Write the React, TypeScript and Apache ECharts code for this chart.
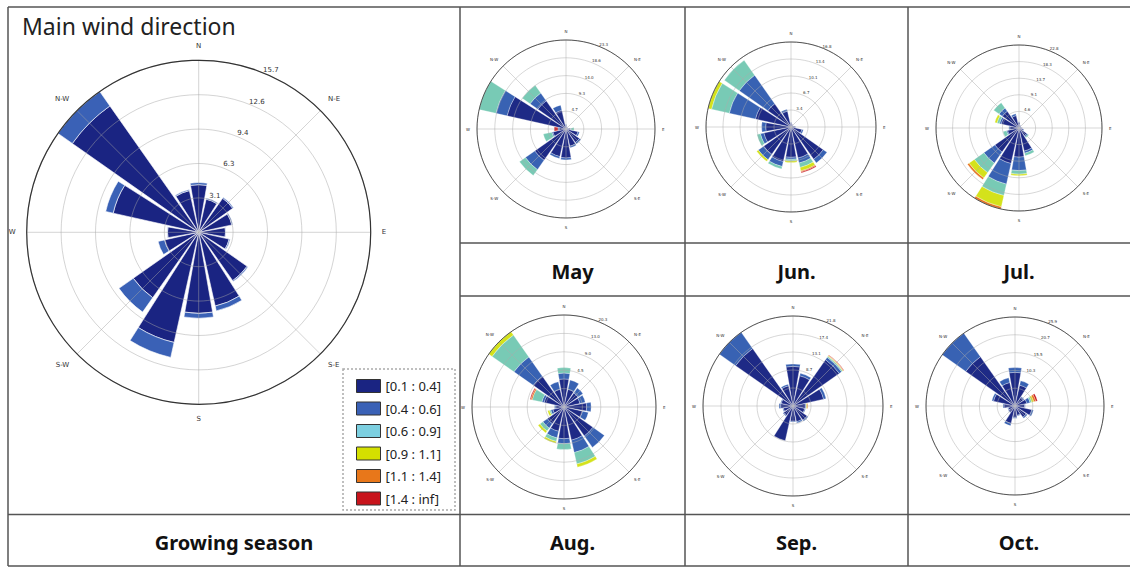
import React, { useEffect, useRef } from "react";
import * as echarts from "echarts";

// 16 compass sectors, clockwise from north
const DIRECTIONS = ["N", "NNE", "NE", "ENE", "E", "ESE", "SE", "SSE", "S", "SSW", "SW", "WSW", "W", "WNW", "NW", "NNW"];
const COMPASS_TICKS: Record<number, string> = { 0: "N", 45: "N-E", 90: "E", 135: "S-E", 180: "S", 225: "S-W", 270: "W", 315: "N-W" };
const SPEED_BINS = ["[0.1 : 0.4]", "[0.4 : 0.6]", "[0.6 : 0.9]", "[0.9 : 1.1]", "[1.1 : 1.4]", "[1.4 : inf]"];
const MAIN_COLORS = ["#1a2482", "#3a61b6", "#7ccfe0", "#d4e000", "#e8771a", "#c8141c"];
const MONTH_COLORS = ["#1e2a86", "#3862b3", "#78cab5", "#d4e21b", "#e8731c", "#c8151b"];
const COLUMN_LABELS = ["May", "Jun.", "Jul.", "Aug.", "Sep.", "Oct."];

// frequency (%) per speed bin, rows = SPEED_BINS, columns = DIRECTIONS
const GROWING_SEASON = [
  [4.35, 3.1, 3.8, 3.1, 2.45, 2.85, 5.4, 6.9, 7.4, 10.3, 7.3, 3.2, 2.85, 8.0, 14.1, 3.9],
  [0.2, 0.1, 0.1, 0.1, 0.05, 0.1, 0.1, 0.45, 0.45, 1.4, 1.6, 0.6, 0.05, 0.7, 1.6, 0.1],
  [0, 0, 0, 0, 0, 0, 0, 0, 0, 0, 0, 0, 0, 0, 0, 0],
  [0, 0, 0, 0, 0, 0, 0, 0, 0, 0, 0, 0, 0, 0, 0, 0],
  [0, 0, 0, 0, 0, 0, 0, 0, 0, 0, 0, 0, 0, 0, 0, 0],
  [0, 0, 0, 0, 0, 0, 0, 0, 0, 0, 0, 0, 0, 0, 0, 0],
];
const MAY = [
  [1.0, 0.6, 0.5, 0.5, 1.2, 3.2, 4.3, 4.6, 7.6, 7.4, 10.0, 3.5, 1.8, 15.8, 9.0, 5.0],
  [0.2, 0.1, 0, 0, 0.1, 0.4, 0.5, 0.4, 0.5, 0.5, 3.0, 0.3, 0.3, 3.0, 2.5, 1.4],
  [0, 0, 0, 0, 0.8, 0, 0, 0, 0, 0, 1.9, 2.3, 0, 4.5, 2.5, 0],
  [0, 0, 0, 0, 0, 0, 0, 0, 0, 0, 0, 0, 0, 0, 0, 0],
  [0, 0, 0, 0, 0, 0, 0, 0, 0, 0, 0, 0, 0, 0, 0, 0],
  [0, 0, 0, 0, 0, 0, 0, 0, 0, 0, 0, 0, 1.0, 0, 0, 0],
];
const JUN = [
  [0.8, 0.6, 0.4, 0.5, 0.8, 2.2, 7.8, 6.3, 6.0, 7.0, 6.6, 5.5, 5.0, 7.2, 5.6, 3.2],
  [0.1, 0, 0, 0, 0.1, 0.3, 0.9, 1.0, 0.4, 1.0, 1.3, 0.7, 0.8, 5.3, 6.9, 0.4],
  [0, 0, 0, 0, 0, 0, 0, 0.9, 0.3, 0.5, 0, 0.7, 0, 3.6, 3.6, 0],
  [0, 0, 0, 0, 0, 0, 0, 0.7, 0.3, 0, 0.4, 0, 0, 0.7, 0, 0],
  [0, 0, 0, 0, 0, 0, 0, 0.2, 0, 0, 0, 0, 0, 0, 0, 0],
  [0, 0, 0, 0, 0, 0, 0, 0.2, 0, 0, 0, 0, 0, 0, 0, 0],
];
const JUL = [
  [1.5, 0.8, 0.6, 0.6, 0.8, 1.2, 2.6, 6.5, 8.0, 10.0, 8.1, 3.2, 2.5, 5.0, 5.6, 3.5],
  [0.2, 0.1, 0, 0, 0.1, 0.2, 0.4, 0.6, 3.7, 5.8, 3.7, 0.3, 0.3, 0.5, 1.1, 0.5],
  [0, 0, 0, 0, 0, 0, 0.3, 0.7, 1.0, 3.2, 3.2, 1.0, 0, 0.7, 1.8, 0],
  [0, 0, 0, 0, 0, 0, 0, 0, 0.4, 3.2, 1.8, 0, 0, 0.6, 0, 0],
  [0, 0, 0, 0, 0, 0, 0, 0, 0, 0.6, 0.5, 0, 0, 0, 0, 0],
  [0, 0, 0, 0, 0, 0, 0, 0, 0, 0, 0, 0, 0, 0, 0, 0],
];
const AUG = [
  [6.2, 4.0, 3.8, 3.6, 5.0, 4.2, 7.8, 7.5, 7.0, 5.5, 4.5, 2.5, 1.8, 4.5, 8.3, 4.0],
  [1.3, 2.1, 1.3, 1.2, 1.0, 1.3, 3.1, 2.8, 1.1, 1.5, 1.2, 0.5, 0.3, 0.5, 5.2, 1.7],
  [1.2, 0, 0, 0, 0, 0, 0, 2.6, 1.3, 0.8, 0.8, 0.3, 0, 2.2, 5.9, 0],
  [0, 0, 0, 0, 0, 0, 0, 0.7, 0, 0.4, 0.5, 0.4, 0, 0, 0.9, 0],
  [0, 0, 0, 0, 0, 0, 0, 0, 0, 0, 0, 0, 0, 0.3, 0, 0],
  [0, 0, 0, 0, 0, 0, 0, 0, 0, 0, 0, 0, 0, 0.2, 0, 0],
];
const SEP = [
  [9.6, 7.5, 13.7, 7.6, 3.0, 2.9, 4.2, 3.9, 3.7, 8.6, 2.8, 2.4, 3.0, 2.9, 17.0, 5.0],
  [0.6, 0.6, 0.7, 0.6, 0.2, 0.2, 0.3, 0.3, 0.2, 0, 0.2, 0.2, 0.4, 0.2, 4.8, 0.4],
  [0, 0, 0.3, 0, 0, 0, 0, 0, 0, 0, 0, 0, 0, 0, 0, 0],
  [0, 0, 0.15, 0, 0.2, 0, 0, 0, 0, 0, 0, 0, 0, 0, 0, 0],
  [0, 0, 0.15, 0, 0.2, 0, 0, 0, 0, 0, 0, 0, 0, 0, 0, 0],
  [0, 0, 0.1, 0, 0, 0, 0, 0, 0, 0, 0, 0, 0, 0, 0, 0],
];
const OCT = [
  [9.8, 6.2, 3.0, 3.5, 2.8, 5.0, 4.0, 2.8, 3.3, 5.2, 2.2, 2.0, 3.2, 6.4, 17.5, 7.0],
  [1.4, 1.3, 0.3, 1.0, 0.2, 0.5, 0.4, 0.2, 0.3, 0.7, 0.2, 0.2, 0.3, 0.5, 8.4, 1.4],
  [0, 0, 0, 0.5, 0, 0, 0, 0, 0, 0, 0, 0, 0, 0, 0, 0],
  [0, 0, 0, 0.6, 0, 0, 0, 0, 0, 0, 0, 0, 0, 0, 0, 0],
  [0, 0, 0, 0.6, 0, 0, 0, 0, 0, 0, 0, 0, 0, 0, 0, 0],
  [0, 0, 0, 0.5, 0, 0, 0, 0, 0, 0, 0, 0, 0, 0, 0, 0],
];

// radial tick labels (5 rings) and radial maxima
const RINGS_SEASON = ["3.1", "6.3", "9.4", "12.6", "15.7"];
const RINGS_MAY = ["4.7", "9.3", "14.0", "18.6", "23.3"];
const RINGS_JUN = ["3.4", "6.7", "10.1", "13.4", "16.8"];
const RINGS_JUL = ["4.6", "9.1", "13.7", "18.3", "22.8"];
const RINGS_AUG = ["", "4.5", "9.0", "13.0", "20.3"];
const RINGS_SEP = ["", "8.7", "13.1", "17.4", "21.8"];
const RINGS_OCT = ["", "10.3", "15.5", "20.7", "25.9"];
const RMAX = [15.7, 23.3, 16.8, 22.8, 20.3, 21.8, 25.9];

const ROSES = [
  { key: "season", data: GROWING_SEASON, rings: RINGS_SEASON, rmax: RMAX[0], cx: 198.7, cy: 232.3, r: 172, big: true },
  { key: "may", data: MAY, rings: RINGS_MAY, rmax: RMAX[1], cx: 566, cy: 129, r: 89, big: false },
  { key: "jun", data: JUN, rings: RINGS_JUN, rmax: RMAX[2], cx: 791, cy: 127, r: 85, big: false },
  { key: "jul", data: JUL, rings: RINGS_JUL, rmax: RMAX[3], cx: 1019, cy: 128, r: 83, big: false },
  { key: "aug", data: AUG, rings: RINGS_AUG, rmax: RMAX[4], cx: 564, cy: 407, r: 92, big: false },
  { key: "sep", data: SEP, rings: RINGS_SEP, rmax: RMAX[5], cx: 793, cy: 406, r: 90, big: false },
  { key: "oct", data: OCT, rings: RINGS_OCT, rmax: RMAX[6], cx: 1015, cy: 406, r: 89, big: false },
];

function buildOption() {
  const polar: any[] = [];
  const angleAxis: any[] = [];
  const radiusAxis: any[] = [];
  const series: any[] = [];

  ROSES.forEach((rose, ci) => {
    const base = ci * 3;
    const step = rose.rmax / 5;
    const font = rose.big ? 7 : 4;
    const labelOff = rose.big ? 5.5 : 3.5;
    const gridColor = rose.big ? "rgba(165,165,165,0.6)" : "rgba(170,170,170,0.6)";

    // bars
    polar.push({ center: [rose.cx, rose.cy], radius: [0, rose.r] });
    angleAxis.push({
      polarIndex: base, type: "category", data: DIRECTIONS, startAngle: 101.25, clockwise: true, boundaryGap: true,
      axisLine: { show: false }, axisTick: { show: false }, axisLabel: { show: false }, splitLine: { show: false },
    });
    radiusAxis.push({
      polarIndex: base, type: "value", min: 0, max: rose.rmax,
      axisLine: { show: false }, axisTick: { show: false }, axisLabel: { show: false }, splitLine: { show: false },
    });

    // grid + compass labels
    polar.push({ center: [rose.cx, rose.cy], radius: [0, rose.r] });
    angleAxis.push({
      polarIndex: base + 1, type: "value", min: 0, max: 360, interval: 45, startAngle: 90, clockwise: true, z: 10,
      axisLine: { show: true, lineStyle: { color: "#333", width: rose.big ? 1.2 : 0.8 } },
      axisTick: { show: false },
      axisLabel: {
        show: true, margin: rose.big ? 11 : 7, fontSize: rose.big ? 7 : 4, fontFamily: "DejaVu Sans", color: "#333",
        formatter: (v: number) => COMPASS_TICKS[Math.round(v)] && Math.round(v) !== 360 ? COMPASS_TICKS[Math.round(v)] : "",
      },
      splitLine: { show: true, lineStyle: { color: gridColor, width: 0.8 } },
    });
    radiusAxis.push({
      polarIndex: base + 1, type: "value", min: 0, max: rose.rmax, interval: step, z: 10,
      axisLine: { show: false }, axisTick: { show: false }, axisLabel: { show: false },
      splitLine: { show: true, lineStyle: { color: gridColor, width: 0.8 } },
    });

    // ring value labels
    polar.push({ center: [rose.cx, rose.cy], radius: [labelOff, rose.r + labelOff] });
    angleAxis.push({
      polarIndex: base + 2, type: "value", min: 0, max: 360, startAngle: 66, clockwise: true,
      axisLine: { show: false }, axisTick: { show: false }, axisLabel: { show: false }, splitLine: { show: false },
    });
    radiusAxis.push({
      polarIndex: base + 2, type: "value", min: 0, max: rose.rmax, interval: step, z: 11,
      axisLine: { show: false }, axisTick: { show: false }, splitLine: { show: false },
      axisLabel: {
        show: true, margin: 0, align: "center", verticalAlign: "middle", fontSize: font,
        fontFamily: "DejaVu Sans", color: "#333",
        formatter: (v: number) => {
          const i = Math.round(v / step);
          return i >= 1 && i <= 5 ? rose.rings[i - 1] : "";
        },
      },
    });

    const colors = rose.big ? MAIN_COLORS : MONTH_COLORS;
    rose.data.forEach((row, b) => {
      series.push({
        type: "bar",
        coordinateSystem: "polar",
        polarIndex: base,
        name: rose.big ? SPEED_BINS[b] : rose.key + " " + SPEED_BINS[b],
        stack: "stack-" + rose.key,
        barCategoryGap: "12%",
        data: row.map((v) => (v > 0 ? v : "-")),
        itemStyle: { color: colors[b], borderColor: "#fff", borderWidth: rose.big ? 0.6 : 0.3 },
        z: 2,
      });
    });
  });

  const lineStyle = { stroke: "#555", lineWidth: 1.5 };
  const hLine = (y: number, x1: number, x2: number) => ({ type: "line", shape: { x1, y1: y, x2, y2: y }, style: lineStyle, z: 50 });
  const vLine = (x: number, y1: number, y2: number) => ({ type: "line", shape: { x1: x, y1, x2: x, y2 }, style: lineStyle, z: 50 });
  const label = (text: string, x: number, y: number) => ({
    type: "text", x, y, z: 50,
    style: { text, fontSize: 20, fontWeight: "bold", fontFamily: "Noto Sans", fill: "#111", align: "center", verticalAlign: "middle", textAlign: "center", textVerticalAlign: "middle" },
  });

  const colX = [572.5, 796.5, 1019];
  const graphic: any[] = [
    hLine(7, 8, 1130), hLine(514.5, 8, 1130), hLine(566, 8, 1130),
    hLine(243, 460, 1130), hLine(296, 460, 1130),
    vLine(8, 7, 566), vLine(460, 7, 566), vLine(685, 7, 566), vLine(908, 7, 566),
    {
      type: "text", x: 22, y: 26, z: 50,
      style: { text: "Main wind direction", fontSize: 23, fontFamily: "Noto Sans", fill: "#222", align: "left", verticalAlign: "middle", textAlign: "left", textVerticalAlign: "middle" },
    },
    label("Growing season", 234, 542),
    label(COLUMN_LABELS[0], colX[0], 271), label(COLUMN_LABELS[1], colX[1], 271), label(COLUMN_LABELS[2], colX[2], 271),
    label(COLUMN_LABELS[3], colX[0], 542), label(COLUMN_LABELS[4], colX[1], 542), label(COLUMN_LABELS[5], colX[2], 542),
    {
      type: "rect", z: 40, shape: { x: 343, y: 369, width: 112, height: 141 },
      style: { fill: "#fff", stroke: "#aaa", lineWidth: 1.5, lineDash: [2, 2] },
    },
  ];

  return {
    animation: false,
    backgroundColor: "#fff",
    polar, angleAxis, radiusAxis, series, graphic,
    legend: {
      data: SPEED_BINS, orient: "vertical", left: 356, top: 379, padding: 0, itemWidth: 24, itemHeight: 13, itemGap: 8.5,
      icon: "rect", selectedMode: false, z: 60,
      itemStyle: { borderColor: "#333", borderWidth: 1 },
      textStyle: { fontSize: 13, fontFamily: "Noto Sans", color: "#222" },
    },
  };
}

export default function App() {
  const ref = useRef<HTMLDivElement>(null);
  useEffect(() => {
    if (!ref.current) return;
    const chart = echarts.init(ref.current, undefined, { renderer: "svg" });
    chart.setOption(buildOption() as any);
    return () => chart.dispose();
  }, []);
  return <div ref={ref} style={{ position: "absolute", left: 0, top: 0, width: 1130, height: 567, background: "#fff" }} />;
}
